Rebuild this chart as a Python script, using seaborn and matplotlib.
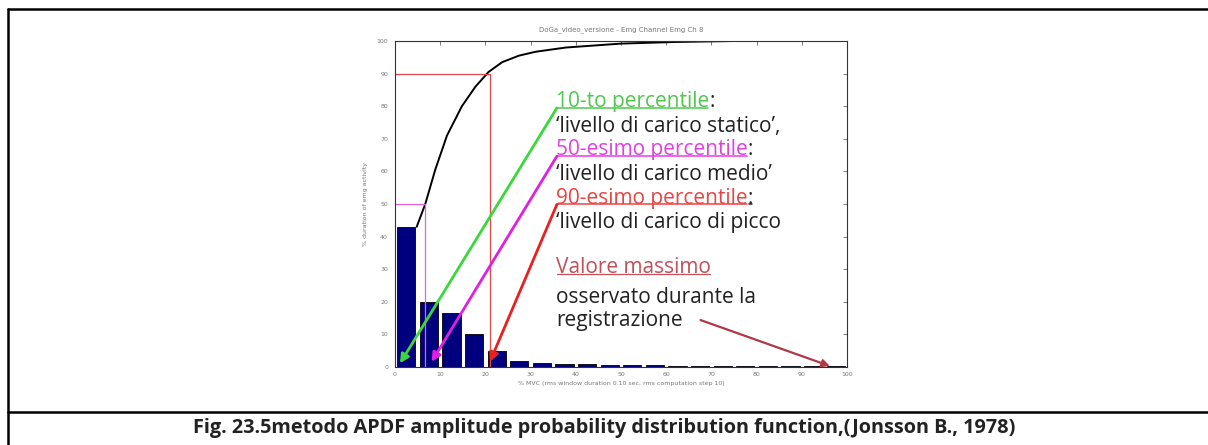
import numpy as np
import pandas as pd
import matplotlib
matplotlib.use("Agg")
import matplotlib.pyplot as plt
from matplotlib.lines import Line2D
import seaborn as sns

# histogram of % MVC (5 % bins) and cumulative curve
bin_centers = [2.5, 7.5, 12.5, 17.5, 22.5, 27.5, 32.5, 37.5, 42.5, 47.5,
               52.5, 57.5, 62.5, 67.5, 72.5, 77.5, 82.5, 87.5, 92.5, 97.5]
bin_heights = [43, 20, 16.5, 10, 4.8, 1.7, 1.1, 1.0, 0.8, 0.7,
               0.6, 0.5, 0.4, 0.4, 0.3, 0.3, 0.3, 0.2, 0.2, 0.3]
cum_x = [4.8, 6.7, 8.9, 11.5, 14.8, 17.8, 20.7, 23.7, 27.4, 31.1, 37.8, 50, 62, 75, 100]
cum_y = [43, 50, 60.5, 71, 80, 86, 90.5, 93.5, 95.5, 96.7, 98, 99.2, 99.7, 100, 100]

p50 = 6.6
p90 = 21.0
# where the annotation arrows point
arrow_targets = {"p10": (1.1, 1.1), "p50": (8.1, 1.6), "p90": (21.0, 1.6), "max": (96.2, 0.3)}

title = "DoGa_video_versione - Emg Channel Emg Ch 8"
xlabel = "% MVC (rms window duration 0.10 sec, rms computation step 10)"
ylabel = "% duration of emg activity"
caption = "Fig. 23.5metodo APDF amplitude probability distribution function,(Jonsson B., 1978)"

sns.set_theme(style="white")
plt.rcParams['font.family'] = ['DejaVu Sans']

W, H = 1208, 445
fig = plt.figure(figsize=(W / 100, H / 100), dpi=100)
ax = fig.add_axes([395 / W, 1 - 367 / H, (847 - 395) / W, (367 - 41) / H])

df = pd.DataFrame({"center": bin_centers, "height": bin_heights})
sns.barplot(data=df, x="center", y="height", native_scale=True, width=0.8,
            color="#00007f", saturation=1, edgecolor="black", linewidth=0.6, ax=ax)
sns.lineplot(x=cum_x, y=cum_y, color="black", lw=1.4, sort=False, ax=ax)

# percentile guide lines
ax.plot([0, p50, p50], [50, 50, 0], color="#e060e0", lw=0.9)
ax.plot([0, p90, p90], [90, 90, 0], color="#e04848", lw=0.9)

ax.set_xlim(0, 100)
ax.set_ylim(0, 100)
ax.set_xticks(range(0, 101, 10))
ax.set_yticks(range(0, 101, 10))
ax.tick_params(direction="in", length=3, width=0.6, top=True, right=True,
               labelsize=4.5, labelcolor="#777777", color="#666666")
ax.tick_params(axis="y", pad=5)
ax.tick_params(axis="x", pad=3.5)
for sp in ax.spines.values():
    sp.set_color("#333333")
    sp.set_linewidth(0.8)
ax.set_title(title, fontsize=5, color="#777777", pad=7)
ax.set_xlabel(xlabel, fontsize=4.5, color="#777777")
ax.set_ylabel(ylabel, fontsize=4.5, color="#777777")
ax.xaxis.set_label_coords(0.5, -0.043)
ax.yaxis.set_label_coords(-0.06, 0.5)

# annotation text block
tx = 35.6
fs = 15
tfont = "Open Sans"
t10 = ax.text(tx, 81.4, "10-to percentile", color="#50c850", fontsize=fs, family=tfont, va="center")
ax.text(tx, 73.7, "\u2018livello di carico statico\u2019,", color="#222222", fontsize=fs, family=tfont, va="center")
t50 = ax.text(tx, 66.6, "50-esimo percentile", color="#e040e0", fontsize=fs, family=tfont, va="center")
ax.text(tx, 58.9, "\u2018livello di carico medio\u2019", color="#222222", fontsize=fs, family=tfont, va="center")
t90 = ax.text(tx, 51.8, "90-esimo percentile", color="#e84444", fontsize=fs, family=tfont, va="center")
ax.text(tx, 44.3, "\u2018livello di carico di picco", color="#222222", fontsize=fs, family=tfont, va="center")
tmax = ax.text(tx, 30.4, "Valore massimo", color="#c0505a", fontsize=fs, family=tfont, va="center")
ax.text(tx, 21.2, "osservato durante la", color="#222222", fontsize=fs, family=tfont, va="center")
treg = ax.text(tx, 14.4, "registrazione", color="#222222", fontsize=fs, family=tfont, va="center")

c10 = ax.annotate(":", xy=(1, 0.5), xycoords=t10, va="center", color="#222222", fontsize=fs, family=tfont)
c50 = ax.annotate(":", xy=(1, 0.5), xycoords=t50, va="center", color="#222222", fontsize=fs, family=tfont)
c90 = ax.annotate(":", xy=(1, 0.5), xycoords=t90, va="center", color="#222222", fontsize=fs, family=tfont)

fig.canvas.draw()
renderer = fig.canvas.get_renderer()
inv = ax.transData.inverted()


def underline(t, color, lw=1.1):
    bb = t.get_window_extent(renderer)
    uy = bb.y0 + 0.2 * bb.height
    (x0, y0), (x1, _) = inv.transform([[bb.x0 + 1, uy], [bb.x1 - 1, uy]])
    ax.add_line(Line2D([x0, x1], [y0, y0], color=color, lw=lw, clip_on=False))
    return x0, y0


s10 = underline(t10, "#50c850")
s50 = underline(t50, "#e040e0")
s90 = underline(t90, "#e84444")
underline(c90, "#222222")
underline(tmax, "#c0505a", lw=0.9)

arrows = [(s10, arrow_targets["p10"], "#3ad83a"),
          (s50, arrow_targets["p50"], "#e020e0"),
          (s90, arrow_targets["p90"], "#e82020")]
for start, end, col in arrows:
    ax.annotate("", xy=end, xytext=start,
                arrowprops=dict(arrowstyle="-|>", color=col, lw=2, mutation_scale=13,
                                shrinkA=0, shrinkB=0))

bb = treg.get_window_extent(renderer)
smax = inv.transform([bb.x1 + 18, (bb.y0 + bb.y1) / 2])
ax.annotate("", xy=arrow_targets["max"], xytext=smax,
            arrowprops=dict(arrowstyle="-|>", color="#b03848", lw=1.6, mutation_scale=11,
                            shrinkA=0, shrinkB=0))

# table frame and caption
lw_frame = 1.8
fig.add_artist(Line2D([7.8 / W, 7.8 / W], [0, 1 - 8.5 / H], transform=fig.transFigure, color="black", lw=lw_frame))
fig.add_artist(Line2D([7.8 / W, 1], [1 - 8.5 / H, 1 - 8.5 / H], transform=fig.transFigure, color="black", lw=lw_frame))
fig.add_artist(Line2D([7.8 / W, 1], [1 - 411.7 / H, 1 - 411.7 / H], transform=fig.transFigure, color="black", lw=lw_frame))
fig.text(604 / W, 1 - 428 / H, caption, ha="center", va="center", fontsize=14.3,
         fontweight="bold", family="Open Sans", color="#222222")

fig.savefig("out.png", dpi=100)
